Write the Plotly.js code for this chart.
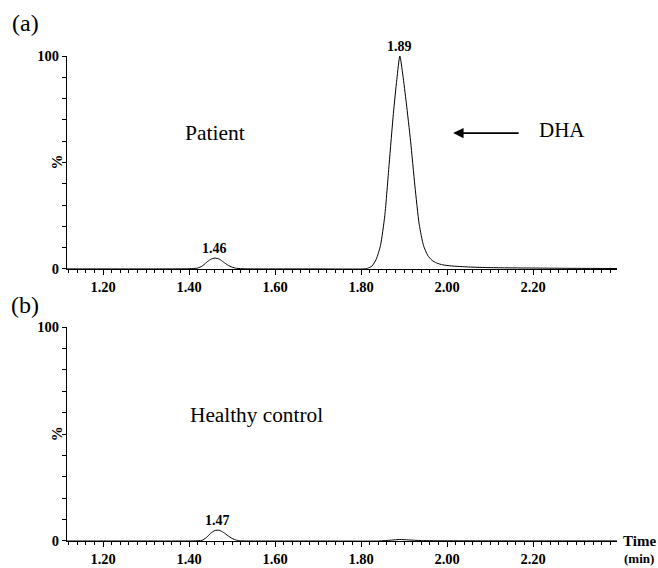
<!DOCTYPE html>
<html>
<head>
<meta charset="utf-8">
<script src="https://cdn.plot.ly/plotly-3.0.1.min.js"></script>
<style>html,body{margin:0;padding:0;background:#fff;font-family:'Liberation Serif',serif;}</style>
</head>
<body>
<div id="chart"></div>
<script>
// Panel (a) Patient chromatogram: retention time (min) and relative intensity (%)
const timeA = [1.116, 1.30, 1.40, 1.42, 1.43, 1.44, 1.45, 1.46, 1.47, 1.48, 1.49, 1.50, 1.51, 1.53, 1.60, 1.70, 1.805, 1.815, 1.825, 1.835, 1.845, 1.855, 1.865, 1.875, 1.883, 1.890, 1.897, 1.905, 1.915, 1.925, 1.935, 1.945, 1.955, 1.965, 1.975, 1.990, 2.010, 2.050, 2.100, 2.200, 2.300, 2.395];
const intA  = [0, 0, 0.1, 0.4, 1.3, 3.0, 4.5, 5.1, 4.6, 3.2, 1.8, 0.8, 0.3, 0.05, 0, 0, 0, 0.3, 1.3, 4.5, 11, 25, 49, 73, 89, 100, 91, 78, 60, 39, 21, 11, 6.3, 4.0, 2.8, 1.9, 1.4, 0.9, 0.6, 0.4, 0.25, 0.2];

// Panel (b) Healthy control chromatogram
const timeB = [1.116, 1.30, 1.41, 1.43, 1.44, 1.45, 1.46, 1.47, 1.48, 1.49, 1.50, 1.51, 1.52, 1.55, 1.70, 1.84, 1.87, 1.89, 1.91, 1.94, 2.00, 2.20, 2.395];
const intB  = [0, 0, 0.05, 0.3, 1.6, 3.6, 4.9, 5.0, 4.0, 2.5, 1.2, 0.4, 0.1, 0, 0, 0, 0.4, 0.7, 0.5, 0.2, 0.1, 0.05, 0.05];

// Tick labels
const xTickVals = [1.2, 1.4, 1.6, 1.8, 2.0, 2.2];
const xTickText = ["<b>1.20</b>", "<b>1.40</b>", "<b>1.60</b>", "<b>1.80</b>", "<b>2.00</b>", "<b>2.20</b>"];
const yTickVals = [0, 10, 20, 30, 40, 50, 60, 70, 80, 90, 100];
const yTickText = ["<b>0</b>", "", "", "", "", "", "", "", "", "", "<b>100</b>"];

// Peak labels
const peakA = [{t: 1.46, v: 5.1, label: "1.46"}, {t: 1.89, v: 100, label: "1.89"}];
const peakB = [{t: 1.465, v: 5.0, label: "1.47"}];

const FONT = "Liberation Serif";
const xRange = [1.116, 2.395];

const lineStyle = {color: "#000", width: 1, shape: "spline", smoothing: 0.6};
const traces = [
  {x: timeA, y: intA, type: "scatter", mode: "lines", line: lineStyle, xaxis: "x", yaxis: "y", hoverinfo: "skip"},
  {x: timeB, y: intB, type: "scatter", mode: "lines", line: lineStyle, xaxis: "x2", yaxis: "y2", hoverinfo: "skip"}
];

function xAxis(anchor) {
  return {
    anchor: anchor, range: xRange, showgrid: false, zeroline: false,
    showline: true, linecolor: "#000", linewidth: 1,
    ticks: "outside", ticklen: 5, tickwidth: 1, tickcolor: "#000",
    tickvals: xTickVals, ticktext: xTickText,
    tickfont: {family: FONT, size: 14.5, color: "#000"},
    minor: {ticks: "outside", ticklen: 3, tickwidth: 1, tickcolor: "#000", dtick: 0.02, tick0: 1.2, showgrid: false}
  };
}
function yAxis(anchor, domain) {
  return {
    anchor: anchor, domain: domain, range: [0, 100], showgrid: false, zeroline: false,
    showline: true, linecolor: "#000", linewidth: 1,
    ticks: "outside", ticklen: 4, tickwidth: 1, tickcolor: "#000",
    tickvals: yTickVals, ticktext: yTickText,
    tickfont: {family: FONT, size: 14.5, color: "#000"}
  };
}

const annotations = [];
peakA.forEach(p => annotations.push({x: p.t, y: p.v, xref: "x", yref: "y", text: "<b>" + p.label + "</b>", showarrow: false, yanchor: "bottom", yshift: 0, font: {family: FONT, size: 14, color: "#000"}}));
peakB.forEach(p => annotations.push({x: p.t, y: p.v, xref: "x2", yref: "y2", text: "<b>" + p.label + "</b>", showarrow: false, yanchor: "bottom", yshift: 0, font: {family: FONT, size: 14, color: "#000"}}));

const C = {xanchor: "center", yanchor: "middle", showarrow: false};
annotations.push(
  Object.assign({x: -0.076, y: 1.068, xref: "paper", yref: "paper", text: "(a)", font: {family: FONT, size: 24, color: "#000"}}, C),
  Object.assign({x: -0.076, y: 0.486, xref: "paper", yref: "paper", text: "(b)", font: {family: FONT, size: 24, color: "#000"}}, C),
  Object.assign({x: 1.46, y: 63.8, xref: "x", yref: "y", text: "Patient", font: {family: FONT, size: 21.5, color: "#000"}}, C),
  Object.assign({x: 2.267, y: 65.3, xref: "x", yref: "y", text: "DHA", font: {family: FONT, size: 21, color: "#000"}}, C),
  {x: 2.014, y: 63.8, xref: "x", yref: "y", ax: 67, ay: 0, text: "", showarrow: true, arrowhead: 2, arrowsize: 1.3, arrowwidth: 1.6, arrowcolor: "#000"},
  Object.assign({x: 1.556, y: 58.9, xref: "x2", yref: "y2", text: "Healthy control", font: {family: FONT, size: 21.3, color: "#000"}}, C),
  Object.assign({x: -0.018, y: 50, xref: "paper", yref: "y", text: "<b>%</b>", textangle: -90, font: {family: FONT, size: 15, color: "#000"}}, C),
  Object.assign({x: -0.018, y: 50, xref: "paper", yref: "y2", text: "<b>%</b>", textangle: -90, font: {family: FONT, size: 15, color: "#000"}}, C),
  {x: 1.0, y: 0, xref: "paper", yref: "paper", xanchor: "left", yanchor: "middle", xshift: 4, text: "<b>Time</b>", showarrow: false, font: {family: FONT, size: 15, color: "#000"}},
  {x: 1.0, y: -0.037, xref: "paper", yref: "paper", xanchor: "left", yanchor: "middle", xshift: 5, text: "<b>(min)</b>", showarrow: false, font: {family: FONT, size: 13, color: "#000"}}
);

const layout = {
  width: 658, height: 568,
  margin: {l: 67, r: 41, t: 56, b: 27},
  paper_bgcolor: "#fff", plot_bgcolor: "#fff",
  showlegend: false,
  font: {family: FONT, color: "#000"},
  xaxis: xAxis("y"),
  yaxis: yAxis("x", [0.561, 1]),
  xaxis2: xAxis("y2"),
  yaxis2: yAxis("x2", [0, 0.441]),
  annotations: annotations
};

function draw() { Plotly.react("chart", traces, layout, {displayModeBar: false}); }
draw();
if (document.fonts && document.fonts.load) {
  Promise.all([document.fonts.load('20px "Liberation Serif"'), document.fonts.load('bold 20px "Liberation Serif"')]).then(draw);
}
</script>
</body>
</html>
